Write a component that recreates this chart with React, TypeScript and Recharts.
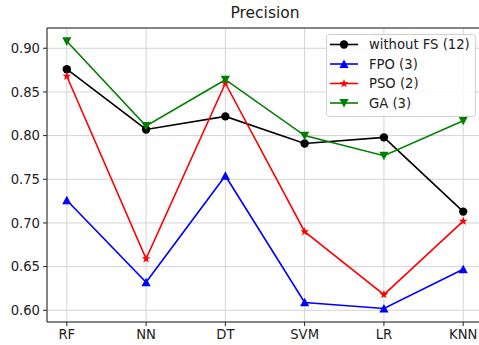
import React from "react";
import { LineChart, Line, XAxis, YAxis, CartesianGrid, ReferenceLine } from "recharts";

const categories = ["RF", "NN", "DT", "SVM", "LR", "KNN"];
const withoutFS = [0.876, 0.807, 0.822, 0.791, 0.798, 0.713];
const fpo = [0.726, 0.632, 0.754, 0.609, 0.602, 0.647];
const pso = [0.868, 0.659, 0.860, 0.690, 0.618, 0.702];
const ga = [0.908, 0.811, 0.864, 0.800, 0.777, 0.817];
const yTicks = [0.6, 0.65, 0.7, 0.75, 0.8, 0.85, 0.9];
const seriesNames = ["without FS (12)", "FPO (3)", "PSO (2)", "GA (3)"];

const Y_MIN = 0.5866;
const Y_MAX = 0.9232;
const FONT = "DejaVu Sans, sans-serif";

const data = categories.map((c, i) => ({
  name: c,
  a: withoutFS[i],
  b: fpo[i],
  c: pso[i],
  d: ga[i],
}));

type Kind = "circle" | "up" | "star" | "down";

function Marker({ cx, cy, color, kind }: { cx: number; cy: number; color: string; kind: Kind }) {
  if (kind === "circle") return <circle cx={cx} cy={cy} r={4.2} fill={color} />;
  if (kind === "up") {
    const s = 4.6;
    return <polygon points={`${cx},${cy - s} ${cx - s},${cy + s * 0.85} ${cx + s},${cy + s * 0.85}`} fill={color} />;
  }
  if (kind === "down") {
    const s = 4.6;
    return <polygon points={`${cx},${cy + s} ${cx - s},${cy - s * 0.85} ${cx + s},${cy - s * 0.85}`} fill={color} />;
  }
  const R = 4.6;
  const r = 1.9;
  const pts: string[] = [];
  for (let k = 0; k < 10; k++) {
    const ang = -Math.PI / 2 + (k * Math.PI) / 5;
    const rad = k % 2 === 0 ? R : r;
    pts.push(`${cx + rad * Math.cos(ang)},${cy + rad * Math.sin(ang)}`);
  }
  return <polygon points={pts.join(" ")} fill={color} />;
}

const makeDot = (color: string, kind: Kind) => (props: any) => {
  const { cx, cy, index } = props;
  if (cx == null || cy == null) return <g key={index} />;
  return <Marker key={index} cx={cx} cy={cy} color={color} kind={kind} />;
};

const series: { key: string; color: string; kind: Kind }[] = [
  { key: "a", color: "#000000", kind: "circle" },
  { key: "b", color: "#0000ff", kind: "up" },
  { key: "c", color: "#ff0000", kind: "star" },
  { key: "d", color: "#008000", kind: "down" },
];

const LegendBox = () => (
  <svg width={151} height={84} style={{ display: "block" }}>
    <rect x={0.5} y={0.5} width={149} height={82} rx={3} ry={3} fill="rgba(255,255,255,0.85)" stroke="#d0d0d0" />
    {series.map((s, i) => {
      const y = 10.5 + i * 19.5;
      return (
        <g key={s.key}>
          <line x1={4} x2={32} y1={y} y2={y} stroke={s.color} strokeWidth={1.6} />
          <Marker cx={18} cy={y} color={s.color} kind={s.kind} />
          <text x={43} y={y + 4.8} fontFamily={FONT} fontSize={13.2} fill="#222">
            {seriesNames[i]}
          </text>
        </g>
      );
    })}
  </svg>
);

export default function App() {
  return (
    <div style={{ position: "absolute", left: 0, top: 0, width: 479, height: 345, overflow: "hidden", background: "#fff" }}>
      <div
        style={{
          position: "absolute",
          left: 0,
          top: 6,
          width: 530,
          textAlign: "center",
          fontFamily: FONT,
          fontSize: 15.5,
          lineHeight: "15.5px",
          color: "#222",
        }}
      >
        Precision
      </div>
      <LineChart width={490} height={345} data={data} margin={{ top: 28, right: 7, bottom: 0, left: 0 }}>
        <CartesianGrid stroke="#d4d4d4" strokeWidth={1} />
        <XAxis
          dataKey="name"
          scale="point"
          padding={{ left: 19.8, right: 19.8 }}
          height={23}
          tickSize={4}
          tickMargin={4}
          stroke="#222"
          tick={{ fontFamily: FONT, fontSize: 13.2, fill: "#222" }}
          interval={0}
        />
        <YAxis
          type="number"
          domain={[Y_MIN, Y_MAX]}
          ticks={yTicks}
          allowDataOverflow
          width={47}
          tickSize={4}
          tickMargin={3}
          stroke="#222"
          tickFormatter={(v: number) => v.toFixed(2)}
          tick={{ fontFamily: FONT, fontSize: 13.2, fill: "#222" }}
          interval={0}
        />
        <ReferenceLine y={Y_MAX} stroke="#222" ifOverflow="visible" />
        {series.map((s) => (
          <Line
            key={s.key}
            type="linear"
            dataKey={s.key}
            stroke={s.color}
            strokeWidth={1.6}
            dot={makeDot(s.color, s.kind)}
            activeDot={false}
            isAnimationActive={false}
          />
        ))}
      </LineChart>
      <div style={{ position: "absolute", left: 326, top: 34 }}>
        <LegendBox />
      </div>
    </div>
  );
}
